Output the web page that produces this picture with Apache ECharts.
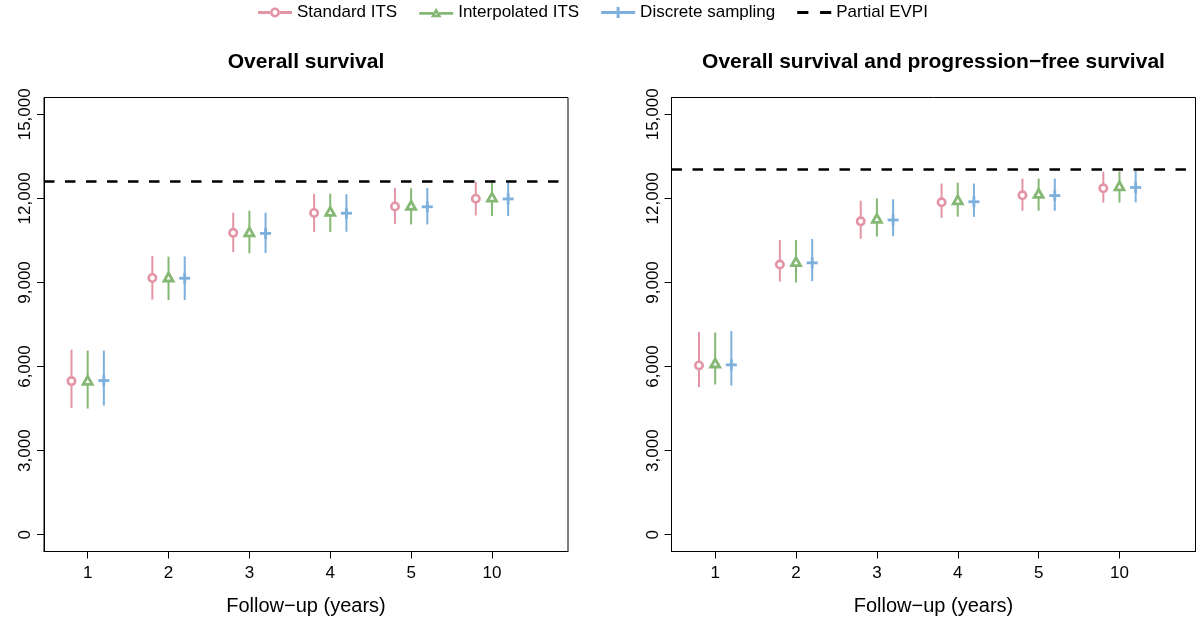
<!DOCTYPE html>
<html>
<head>
<meta charset="utf-8">
<script src="https://cdn.jsdelivr.net/npm/echarts@6/dist/echarts.min.js"></script>
<style>
  html, body { margin: 0; padding: 0; background: #fff; }
  #chart { width: 1198px; height: 623px; }
</style>
</head>
<body>
<div id="chart"></div>
<script>
// ---------- data ----------
const xTickLabels = ['1', '2', '3', '4', '5', '10'];
const yTickValues = [0, 3000, 6000, 9000, 12000, 15000];
const methodNames = ['Standard ITS', 'Interpolated ITS', 'Discrete sampling'];
const evpiName = 'Partial EVPI';
const panelTitles = ['Overall survival', 'Overall survival and progression\u2212free survival'];
const xAxisTitle = 'Follow\u2212up (years)';

// Panel 1: Overall survival
const osStdMean = [5480, 9160, 10770, 11480, 11710, 11990];
const osStdLow  = [4520, 8390, 10080, 10800, 11080, 11390];
const osStdUp   = [6600, 9940, 11490, 12160, 12370, 12590];
const osIntMean = [5470, 9160, 10770, 11500, 11720, 12010];
const osIntLow  = [4500, 8370, 10040, 10800, 11070, 11370];
const osIntUp   = [6570, 9920, 11560, 12170, 12360, 12560];
const osDisMean = [5500, 9150, 10750, 11470, 11700, 11980];
const osDisLow  = [4610, 8370, 10050, 10810, 11070, 11370];
const osDisUp   = [6570, 9930, 11490, 12150, 12370, 12560];
const osEvpi = 12600;

// Panel 2: Overall survival and progression-free survival
const pfsStdMean = [6040, 9640, 11180, 11860, 12110, 12360];
const pfsStdLow  = [5270, 9030, 10560, 11310, 11560, 11850];
const pfsStdUp   = [7230, 10520, 11920, 12530, 12710, 12950];
const pfsIntMean = [6090, 9710, 11250, 11910, 12140, 12410];
const pfsIntLow  = [5360, 9000, 10640, 11350, 11560, 11850];
const pfsIntUp   = [7210, 10520, 12000, 12560, 12710, 12960];
const pfsDisMean = [6060, 9700, 11230, 11880, 12100, 12390];
const pfsDisLow  = [5320, 9050, 10650, 11340, 11560, 11860];
const pfsDisUp   = [7270, 10550, 11970, 12530, 12710, 12990];
const pfsEvpi = 13030;

// ---------- styling ----------
const FONT = "'Liberation Sans', Arial, Helvetica, sans-serif";
const colors = ['#E495A5', '#86B875', '#7DB0DD'];
const offsets = [-0.2, 0, 0.2];
const shapes = ['circle', 'triangle', 'plus'];

function rows(mean, low, up) {
  return xTickLabels.map((_, i) => [i + 1, mean[i], low[i], up[i]]);
}

function makeRender(offset, shape, color) {
  return function (params, api) {
    const x = api.value(0) + offset;
    const m = api.coord([x, api.value(1)]);
    const lo = api.coord([x, api.value(2)]);
    const hi = api.coord([x, api.value(3)]);
    const children = [{
      type: 'line',
      shape: { x1: lo[0], y1: lo[1], x2: hi[0], y2: hi[1] },
      style: { stroke: color, lineWidth: 2 }
    }];
    const cx = m[0], cy = m[1];
    if (shape === 'circle') {
      children.push({ type: 'circle', shape: { cx: cx, cy: cy, r: 3.7 },
        style: { fill: '#fff', stroke: color, lineWidth: 2.6 } });
    } else if (shape === 'triangle') {
      children.push({ type: 'polygon',
        shape: { points: [[cx, cy - 5.0], [cx + 4.5, cy + 3.0], [cx - 4.5, cy + 3.0]] },
        style: { fill: '#fff', stroke: color, lineWidth: 2.8, lineJoin: 'miter' } });
    } else {
      children.push({ type: 'line', shape: { x1: cx - 5.5, y1: cy, x2: cx + 5.5, y2: cy },
        style: { stroke: color, lineWidth: 2.8 } });
      children.push({ type: 'line', shape: { x1: cx, y1: cy - 5.5, x2: cx, y2: cy + 5.5 },
        style: { stroke: color, lineWidth: 2.8 } });
    }
    return { type: 'group', children: children };
  };
}

const panels = [
  { data: [rows(osStdMean, osStdLow, osStdUp), rows(osIntMean, osIntLow, osIntUp), rows(osDisMean, osDisLow, osDisUp)], evpi: osEvpi },
  { data: [rows(pfsStdMean, pfsStdLow, pfsStdUp), rows(pfsIntMean, pfsIntLow, pfsIntUp), rows(pfsDisMean, pfsDisLow, pfsDisUp)], evpi: pfsEvpi }
];

const gridLefts = [44, 671.5];
const grids = gridLefts.map(l => ({
  left: l, top: 97.5, width: 524, height: 454,
  show: true, borderColor: '#000', borderWidth: 1, backgroundColor: 'transparent'
}));

const xAxes = gridLefts.map((_, i) => ({
  type: 'value', gridIndex: i, min: 0.46, max: 6.94, position: 'bottom',
  splitLine: { show: false },
  axisLine: { show: true, onZero: false, lineStyle: { color: '#000', width: 1 } },
  axisTick: { show: true, customValues: xTickLabels.map((_, k) => k + 1), length: 7, inside: false,
    lineStyle: { color: '#000', width: 1 } },
  axisLabel: { show: true, customValues: xTickLabels.map((_, k) => k + 1), margin: 13,
    formatter: v => xTickLabels[Math.round(v) - 1], color: '#000', fontSize: 17, fontFamily: FONT },
  name: xAxisTitle, nameLocation: 'middle', nameGap: 45,
  nameTextStyle: { color: '#000', fontSize: 20, fontFamily: FONT }
}));

const yAxes = gridLefts.map((_, i) => ({
  type: 'value', gridIndex: i, min: -600, max: 15600, position: 'left',
  splitLine: { show: false },
  axisLine: { show: true, onZero: false, lineStyle: { color: '#000', width: 1 } },
  axisTick: { show: true, customValues: yTickValues, length: 7, inside: false,
    lineStyle: { color: '#000', width: 1 } },
  axisLabel: { show: true, customValues: yTickValues, rotate: 90, margin: 10,
    formatter: v => Number(v).toLocaleString('en-US'), color: '#000', fontSize: 17, fontFamily: FONT }
}));

const series = [];
panels.forEach((p, pi) => {
  p.data.forEach((d, mi) => {
    series.push({
      type: 'custom', name: methodNames[mi], xAxisIndex: pi, yAxisIndex: pi,
      data: d, encode: { x: 0, y: [1, 2, 3] },
      itemStyle: { color: colors[mi] },
      renderItem: makeRender(offsets[mi], shapes[mi], colors[mi]),
      animation: false, silent: true
    });
  });
  series.push({
    type: 'line', name: evpiName, xAxisIndex: pi, yAxisIndex: pi, data: [],
    itemStyle: { color: '#000' }, lineStyle: { color: '#000' },
    markLine: {
      silent: true, symbol: ['none', 'none'], label: { show: false },
      lineStyle: { color: '#000', type: [10.5, 10.5], width: 2.7 },
      data: [{ yAxis: p.evpi }], animation: false
    }
  });
});

const legendIcons = [
  'path://M0,4.6 H12 V7.4 H0 Z M22,4.6 H34 V7.4 H22 Z M12,6 A5,5 0 1,0 22,6 A5,5 0 1,0 12,6 Z M14.6,6 A2.4,2.4 0 1,1 19.4,6 A2.4,2.4 0 1,1 14.6,6 Z',
  'path://M0,4.6 H14 V7.4 H0 Z M20,4.6 H34 V7.4 H20 Z M17,0.4 L22.4,9.8 L11.6,9.8 Z M17,5.6 L16,7.4 L18,7.4 Z',
  'path://M0,4.6 H34 V7.4 H0 Z M15.5,0.4 H18.5 V11.6 H15.5 Z M11.4,4.5 H22.6 V7.5 H11.4 Z',
  'path://M1,0 H11.5 V2.8 H1 Z M22.5,0 H33 V2.8 H22.5 Z'
];

const option = {
  animation: false,
  backgroundColor: '#fff',
  textStyle: { fontFamily: FONT },
  title: panelTitles.map((t, i) => ({
    text: t, left: gridLefts[i] + 262, top: 52, padding: 0, textAlign: 'center',
    textStyle: { fontSize: 21, fontWeight: 'bold', color: '#000', fontFamily: FONT }
  })),
  legend: {
    top: 4, left: 258, padding: 0, itemWidth: 34, itemHeight: 14, itemGap: 22,
    selectedMode: false,
    textStyle: { color: '#000', fontSize: 17, fontFamily: FONT },
    data: methodNames.map((n, i) => ({ name: n, icon: legendIcons[i], itemStyle: { color: colors[i], borderWidth: 0 } }))
      .concat([{ name: evpiName, icon: legendIcons[3], itemStyle: { color: '#000', borderWidth: 0 } }])
  },
  grid: grids,
  xAxis: xAxes,
  yAxis: yAxes,
  series: series
};

const chart = echarts.init(document.getElementById('chart'), null, { renderer: 'canvas' });
chart.setOption(option);
</script>
</body>
</html>
